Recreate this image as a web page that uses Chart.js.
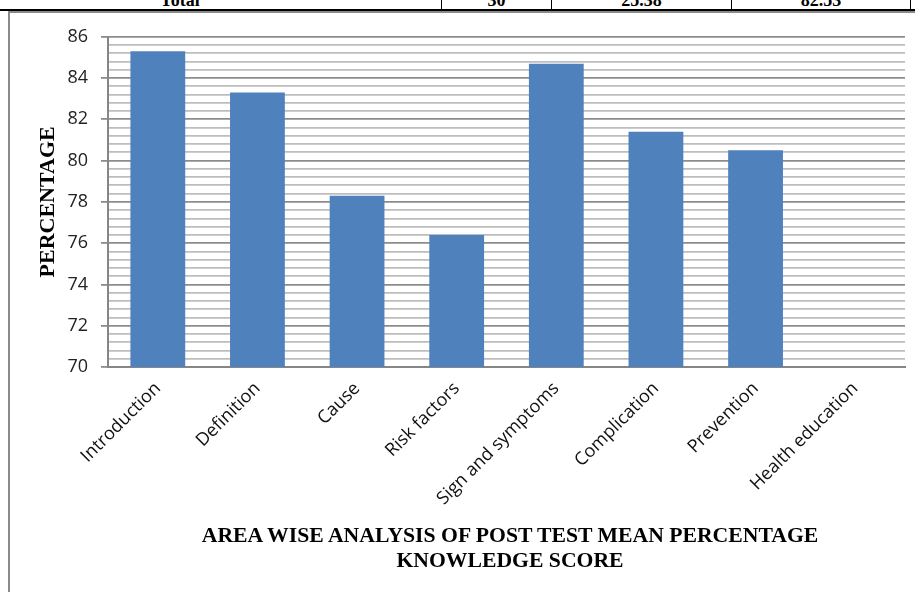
<!DOCTYPE html>
<html>
<head>
<meta charset="utf-8">
<script src="https://cdn.jsdelivr.net/npm/chart.js@4/dist/chart.umd.min.js"></script>
<style>
  html, body { margin: 0; padding: 0; background: #fff; }
  body { width: 915px; height: 592px; position: relative; overflow: hidden; }
  .row { position: absolute; left: 0; top: -10px; width: 915px; height: 19px; border-bottom: 2px solid #000; }
  .cell { position: absolute; top: 0; height: 19px; font: bold 18px "Liberation Serif", serif; color: #000; text-align: center; line-height: 20px; }
  .cell.b { border-right: 1px solid #000; }
  .frame { position: absolute; left: 8px; top: 11px; width: 920px; height: 600px; border-left: 2px solid #8a8a8a; border-top: 2px solid #8a8a8a; }
  #wrap { position: absolute; left: 10px; top: 13px; width: 905px; height: 579px; }
  .caption { position: absolute; left: 0; top: 523px; width: 1020px; text-align: center; font: bold 21.7px "Liberation Serif", serif; line-height: 25px; color: #000; }
</style>
</head>
<body>
<div class="row">
  <div class="cell" style="left:0;width:360px">Total</div>
  <div class="cell b" style="left:0;width:441px"></div>
  <div class="cell b" style="left:442px;width:109px">30</div>
  <div class="cell b" style="left:552px;width:179px">25.38</div>
  <div class="cell b" style="left:732px;width:178px">82.53</div>
</div>
<div class="frame"></div>
<div id="wrap"><canvas id="c"></canvas></div>
<div class="caption">AREA WISE ANALYSIS OF POST TEST MEAN PERCENTAGE<br>KNOWLEDGE SCORE</div>
<script>
// Knowledge areas and their post-test mean percentage scores
const areas = ['Introduction', 'Definition', 'Cause', 'Risk factors', 'Sign and symptoms', 'Complication', 'Prevention', 'Health education'];
const meanPercentage = [85.3, 83.3, 78.3, 76.4, 84.7, 81.4, 80.5, null];
const yMin = 70, yMax = 86, majorStep = 2, minorStep = 0.4;

const isMajor = v => Math.abs(v / majorStep - Math.round(v / majorStep)) < 1e-6;

new Chart(document.getElementById('c'), {
  type: 'bar',
  data: {
    labels: areas,
    datasets: [{
      data: meanPercentage,
      backgroundColor: '#4f81bd',
      borderWidth: 0,
      categoryPercentage: 1,
      barPercentage: 0.55
    }]
  },
  options: {
    responsive: true,
    maintainAspectRatio: false,
    animation: false,
    layout: { padding: { top: 20, right: 10, left: 0, bottom: 75 } },
    plugins: { legend: { display: false }, tooltip: { enabled: false }, title: { display: false } },
    scales: {
      x: {
        grid: { display: false },
        border: { display: true, color: '#868686', width: 2 },
        ticks: {
          color: '#111',
          font: { family: 'Open Sans', size: 18 },
          minRotation: 45, maxRotation: 45,
          autoSkip: false,
          padding: 3
        },
        afterFit: s => { s.height = 150; }
      },
      y: {
        min: yMin, max: yMax,
        grid: {
          color: ctx => isMajor(ctx.tick.value) ? '#8c8c8c' : '#bdbdbd',
          lineWidth: 1.8,
          tickColor: ctx => isMajor(ctx.tick.value) ? '#8c8c8c' : 'rgba(0,0,0,0)',
          tickLength: 7
        },
        border: { display: true, color: '#868686', width: 2 },
        ticks: {
          stepSize: minorStep,
          maxTicksLimit: 100,
          autoSkip: false,
          color: '#222',
          font: { family: 'Open Sans', size: 18 },
          padding: 13,
          callback: v => isMajor(v) ? String(Math.round(v)) : ''
        },
        title: {
          display: true,
          text: 'PERCENTAGE',
          color: '#000',
          font: { family: 'Liberation Serif', size: 22, weight: 'bold' },
          padding: { top: 25, bottom: 0 }
        },
        afterFit: s => { s.width = 98; }
      }
    }
  }
});
</script>
</body>
</html>
